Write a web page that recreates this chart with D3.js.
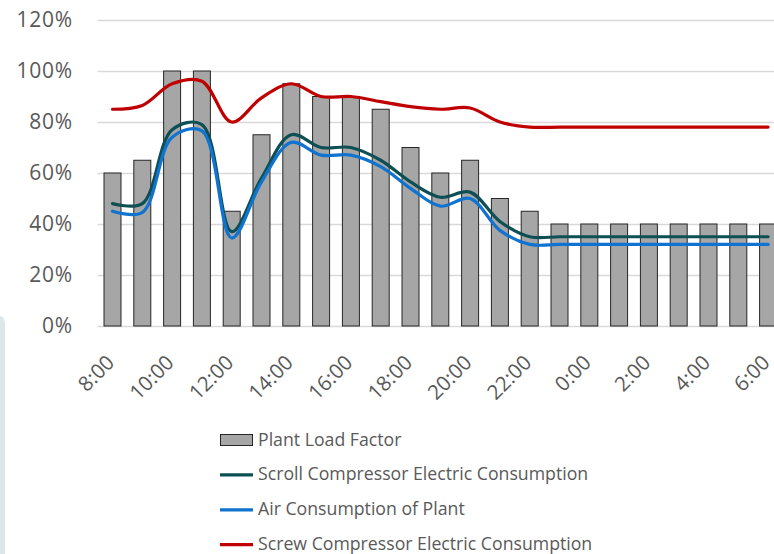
<!DOCTYPE html>
<html>
<head>
<meta charset="utf-8">
<script src="https://cdn.jsdelivr.net/npm/d3@7"></script>
<style>
body { margin: 0; background: white; }
svg { display: block; }
</style>
</head>
<body>
<div id="chart"></div>
<script>
var width = 774
var height = 554

// Data
var hours = ["8:00","9:00","10:00","11:00","12:00","13:00","14:00","15:00","16:00","17:00","18:00","19:00",
    "20:00","21:00","22:00","23:00","0:00","1:00","2:00","3:00","4:00","5:00","6:00"];
var hourTicks = ["8:00","10:00","12:00","14:00","16:00","18:00","20:00","22:00","0:00","2:00","4:00","6:00"];
var loadFactor = [60,65,100,100,45,75,95,90,90,85,70,60,65,50,45,40,40,40,40,40,40,40,40];
var scrollElec = [48,48,77,79,37,58,75,70,70,65,56.5,50.5,52.5,41,35,35,35,35,35,35,35,35,35];
var airCons = [45,44.5,74,76.5,34.5,56.5,72,67,67,62.5,54,47,50,37.5,32,32,32,32,32,32,32,32,32];
var screwElec = [85,86.5,95,96,80,89.5,95,90,90,88,86,85,85.5,80,78,78,78,78,78,78,78,78,78];
var yTicks = [0,20,40,60,80,100,120];

var legendItems = [
    {name: "Plant Load Factor", type: "bar", color: "#a6a6a6"},
    {name: "Scroll Compressor Electric Consumption", type: "line", color: "#0d4f54"},
    {name: "Air Consumption of Plant", type: "line", color: "#0f73cf"},
    {name: "Screw Compressor Electric Consumption", type: "line", color: "#c00000"}
];
var lineSeries = [
    {values: scrollElec, color: "#0d4f54"},
    {values: airCons, color: "#0f73cf"},
    {values: screwElec, color: "#c00000"}
];

var plot = {left: 97.6, right: 783, top: 20, bottom: 326}

var x_scale = d3.scaleBand()
    .domain(hours)
    .range([plot.left, plot.right])
    .paddingInner(0.43)
    .paddingOuter(0.215);

var y_scale = d3.scaleLinear()
    .domain([0, 120])
    .range([plot.bottom, plot.top]);

var svg = d3.select("#chart")
    .append("svg")
    .attr("width", width)
    .attr("height", height)
    .style("font-family", "'Open Sans', sans-serif")

// left panel edge
svg.append("path")
    .attr("d", "M0,316 L0,554 L5,554 L5,326 Q5,316 0,316 Z")
    .attr("fill", "#dde6ea")

// Gridlines
svg.append("g")
    .attr("class", "grid")
    .attr("transform", "translate(" + plot.left + ",0)")
    .call(d3.axisLeft(y_scale).tickValues(yTicks).tickSize(-(plot.right - plot.left)).tickFormat(""))
    .call(function(g){ g.select(".domain").remove(); })
    .selectAll("line")
    .attr("stroke", "#d9d9d9")
    .attr("stroke-width", 1.3);

// Y axis labels
svg.append("g")
    .attr("transform", "translate(73,0)")
    .call(d3.axisLeft(y_scale).tickValues(yTicks).tickSize(0).tickPadding(0).tickFormat(function(d){ return d + "%"; }))
    .call(function(g){ g.select(".domain").remove(); })
    .selectAll("text")
    .attr("fill", "#595959")
    .style("font-size", "21px")
    .style("letter-spacing", "0.8px")
    .style("font-family", "'Open Sans', sans-serif");

// Bars
svg.append("g")
    .selectAll("rect")
    .data(loadFactor)
    .enter()
    .append("rect")
    .attr("x", function(d, i){ return x_scale(hours[i]); })
    .attr("y", function(d){ return y_scale(d); })
    .attr("width", x_scale.bandwidth())
    .attr("height", function(d){ return y_scale(0) - y_scale(d); })
    .attr("fill", "#a6a6a6")
    .attr("stroke", "#262626")
    .attr("stroke-width", 1);

// Lines
var line = d3.line()
    .x(function(d, i){ return x_scale(hours[i]) + x_scale.bandwidth() / 2; })
    .y(function(d){ return y_scale(d); })
    .curve(d3.curveCatmullRom.alpha(0.5));

svg.append("g")
    .selectAll("path")
    .data(lineSeries)
    .enter()
    .append("path")
    .attr("d", function(d){ return line(d.values); })
    .attr("fill", "none")
    .attr("stroke", function(d){ return d.color; })
    .attr("stroke-width", 3.2)
    .attr("stroke-linecap", "round");

// X axis labels
var xAxis = svg.append("g")
    .attr("transform", "translate(0," + plot.bottom + ")")
    .call(d3.axisBottom(x_scale).tickValues(hourTicks).tickSize(0).tickFormat(function(d){ return d; }))
    .call(function(g){ g.select(".domain").remove(); });

xAxis.selectAll("text")
    .attr("fill", "#595959")
    .style("font-size", "20.5px")
    .style("font-family", "'Open Sans', sans-serif")
    .attr("text-anchor", "end")
    .attr("dy", null)
    .attr("y", 0)
    .attr("transform", "translate(3,38) rotate(-45)");

// Legend
var legend = svg.append("g")
    .selectAll("g")
    .data(legendItems)
    .enter()
    .append("g")
    .attr("transform", function(d, i){ return "translate(220," + (440 + i * 34.9) + ")"; });

legend.filter(function(d){ return d.type == "bar"; })
    .append("rect")
    .attr("x", 0.5)
    .attr("y", -5.5)
    .attr("width", 32)
    .attr("height", 11)
    .attr("fill", function(d){ return d.color; })
    .attr("stroke", "#262626")
    .attr("stroke-width", 1);

legend.filter(function(d){ return d.type == "line"; })
    .append("line")
    .attr("x1", 0)
    .attr("x2", 33)
    .attr("stroke", function(d){ return d.color; })
    .attr("stroke-width", 3.2);

legend.append("text")
    .attr("x", 38)
    .attr("y", 5.5)
    .attr("fill", "#595959")
    .style("font-size", "17.7px")
    .text(function(d){ return d.name; });
</script>
</body>
</html>
